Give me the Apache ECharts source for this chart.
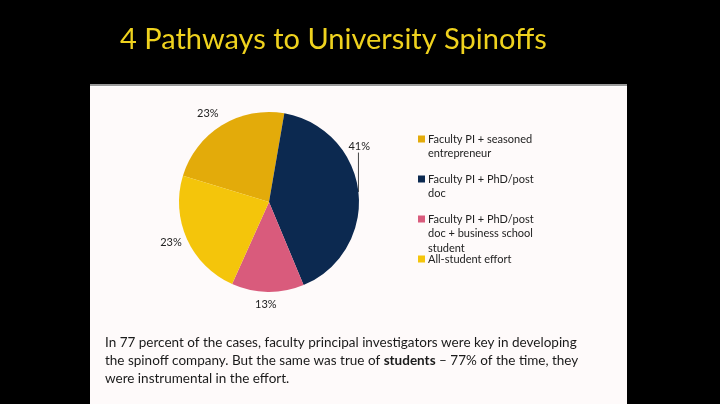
<!DOCTYPE html>
<html><head><meta charset="utf-8">
<script src="https://cdn.jsdelivr.net/npm/echarts@6/dist/echarts.min.js"></script>
<style>html,body{margin:0;padding:0;background:#000}#c{width:720px;height:404px}</style>
</head><body><div id="c"></div>
<script>
const categories = ['Faculty PI + seasoned entrepreneur', 'Faculty PI + PhD/post doc', 'Faculty PI + PhD/post doc + business school student', 'All-student effort'];
const legendLabels = ['Faculty PI + seasoned\nentrepreneur', 'Faculty PI + PhD/post\ndoc', 'Faculty PI + PhD/post\ndoc + business school\nstudent', 'All-student effort'];
const shares = [23, 41, 13, 23];
const colors = ['#E3AB0A', '#0C2950', '#D95B7C', '#F4C50B'];
const titleText = '4 Pathways to University Spinoffs';
const bodyText = 'In 77 percent of the cases, faculty principal investigators were key in developing\nthe spinoff company. But the same was true of {b|students} \u2013 77% of the time, they\nwere instrumental in the effort.';

const FONT = 'Lato, "Open Sans", sans-serif';
const LH = 14.5;
const chart = echarts.init(document.getElementById('c'), null, {renderer: 'canvas'});

const legends = categories.map((name, i) => {
  const firstLineY = 139 + 40 * i;
  return {
    data: [name],
    orient: 'vertical',
    left: 413,
    top: firstLineY - LH / 2,
    padding: 0,
    itemGap: 0,
    itemWidth: 0,
    itemHeight: 0,
    icon: 'rect',
    selectedMode: false,
    formatter: () => legendLabels[i].split('\n')
      .map((ln, k) => (k === 0 ? '{sq|}{g|}' : '{sp|}') + '{t|' + ln + '}').join('\n'),
    textStyle: {
      fontFamily: FONT, fontSize: 11, color: '#222', lineHeight: LH,
      rich: {
        sq: {width: 7, height: 7, backgroundColor: colors[i], verticalAlign: 'middle'},
        g: {width: 3, height: 7},
        sp: {width: 10, height: 7},
        t: {fontFamily: FONT, fontSize: 11, color: '#222', lineHeight: LH, verticalAlign: 'middle'}
      }
    }
  };
});

const nudges = [[6, -5], [-23, -45], [14, 4], [7, 0]];

chart.setOption({
  backgroundColor: '#000',
  animation: false,
  color: colors,
  graphic: [
    {type: 'rect', shape: {x: 90, y: 84, width: 537, height: 320}, style: {fill: '#FEFAFA'}, z: 0},
    {type: 'rect', shape: {x: 90, y: 84, width: 537, height: 2}, style: {fill: '#9a9a9a'}, z: 1},
    {type: 'rect', shape: {x: 90, y: 86, width: 537, height: 1}, style: {fill: '#ffffff'}, z: 1},
    {type: 'text', x: 120, y: 40, z: 2, style: {
      text: titleText, fill: '#EFD21E', fontFamily: FONT, fontSize: 29, verticalAlign: 'middle'
    }},
    {type: 'text', x: 105, y: 334, z: 2, style: {
      text: bodyText, fill: '#1a1a1a', fontFamily: FONT, fontSize: 13.5, lineHeight: 18, verticalAlign: 'top',
      rich: {b: {fontFamily: FONT, fontSize: 13.5, fontWeight: 'bold', fill: '#1a1a1a', lineHeight: 18}}
    }}
  ],
  legend: legends,
  series: [{
    type: 'pie',
    center: [269, 202],
    radius: 90,
    startAngle: 163,
    clockwise: true,
    emphasis: {disabled: true},
    itemStyle: {borderWidth: 0},
    label: {show: true, position: 'outside', formatter: '{c}%', fontFamily: FONT, fontSize: 11, color: '#222'},
    labelLine: {show: true, length: 8, length2: 0, lineStyle: {color: '#444', width: 1}},
    labelLayout: function (p) {
      const d = nudges[p.dataIndex];
      const out = {dx: d[0], dy: d[1]};
      if (p.dataIndex === 1 && p.labelLinePoints) {
        const a = p.labelLinePoints[0];
        out.labelLinePoints = [a, [a[0], p.labelRect.y + d[1] + p.labelRect.height + 1]];
      }
      return out;
    },
    data: categories.map((name, i) => ({
      name: name,
      value: shares[i],
      labelLine: {show: i === 1}
    }))
  }]
});
</script></body></html>
